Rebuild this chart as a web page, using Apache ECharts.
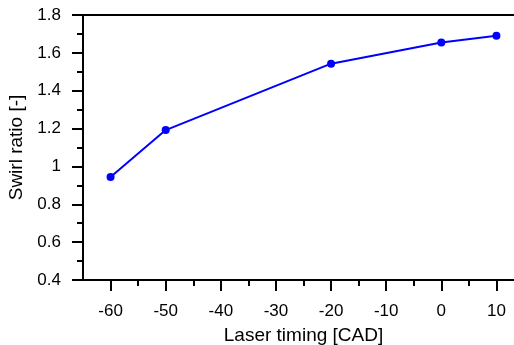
<!DOCTYPE html>
<html>
<head>
<meta charset="utf-8">
<script src="https://cdn.jsdelivr.net/npm/echarts@6/dist/echarts.min.js"></script>
<style>
  html, body {margin: 0; padding: 0; background: #fff;}
  #chart {width: 514px; height: 345px;}
</style>
</head>
<body>
<div id="chart"></div>
<script>
// laser timing [CAD] vs swirl ratio
const timing = [-60, -50, -20, 0, 10];
const swirl = [0.944, 1.192, 1.543, 1.655, 1.69];
const xMajor = [-60, -50, -40, -30, -20, -10, 0, 10];
const xMinor = [-55, -45, -35, -25, -15, -5, 5];

const font = 'Liberation Sans, Arial, sans-serif';
const chart = echarts.init(document.getElementById('chart'));

chart.setOption({
  animation: false,
  grid: {
    left: 83, top: 15, width: 441, height: 265,
    outerBoundsMode: 'none', containLabel: false,
    show: true, borderColor: '#000', borderWidth: 2, backgroundColor: 'transparent'
  },
  xAxis: [
    {
      type: 'value', min: -65, max: 15,
      name: 'Laser timing [CAD]', nameLocation: 'middle', nameGap: 46,
      nameTextStyle: {color: '#000', fontSize: 19, fontFamily: font},
      axisLine: {onZero: false, lineStyle: {color: '#000', width: 2}},
      axisTick: {show: true, inside: false, length: 11, lineStyle: {color: '#000', width: 2}, customValues: xMajor},
      axisLabel: {color: '#000', fontSize: 17, fontFamily: font, margin: 23, customValues: xMajor},
      splitLine: {show: false}
    },
    {
      type: 'value', min: -65, max: 15, position: 'bottom', offset: 0,
      axisLine: {show: false, onZero: false},
      axisTick: {show: true, length: 6, lineStyle: {color: '#000', width: 2}, customValues: xMinor},
      axisLabel: {show: false},
      splitLine: {show: false}
    }
  ],
  yAxis: {
    type: 'value', min: 0.4, max: 1.8, interval: 0.2,
    name: 'Swirl ratio [-]', nameLocation: 'middle', nameGap: 55, nameRotate: 90,
    nameTextStyle: {color: '#000', fontSize: 19, fontFamily: font},
    axisLine: {show: true, onZero: false, lineStyle: {color: '#000', width: 2}},
    axisTick: {show: true, length: 11, lineStyle: {color: '#000', width: 2}},
    minorTick: {show: true, splitNumber: 2, length: 6, lineStyle: {color: '#000', width: 2}},
    axisLabel: {
      color: '#000', fontSize: 17, fontFamily: font, margin: 22,
      formatter: v => String(Math.round(v * 10) / 10)
    },
    splitLine: {show: false}
  },
  series: [{
    type: 'line',
    data: timing.map((t, i) => [t, swirl[i]]),
    symbol: 'circle', symbolSize: 8,
    itemStyle: {color: '#0000ff'},
    lineStyle: {color: '#0000ff', width: 2}
  }]
});
</script>
</body>
</html>
